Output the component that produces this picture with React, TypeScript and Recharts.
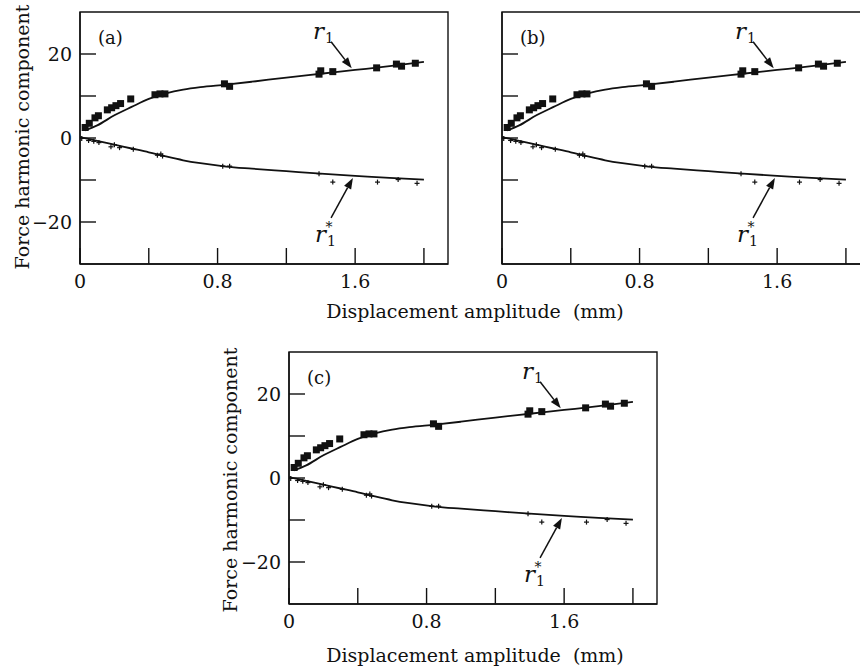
import React from "react";
import {
  ComposedChart,
  Line,
  Scatter,
  XAxis,
  YAxis,
  ReferenceLine,
  ReferenceArea,
  ReferenceDot,
} from "recharts";

const FONT = '"DejaVu Serif", "Liberation Serif", serif';
const INK = "#111";

// axis setup
const X_DOMAIN: [number, number] = [0, 2.14];
const Y_DOMAIN: [number, number] = [-30, 30];
const X_TICKS = [0, 0.4, 0.8, 1.2, 1.6, 2.0];
const X_LABELED = [0, 0.8, 1.6];
const Y_TICKS = [-20, -10, 0, 10, 20];
const Y_LABELED = [-20, 0, 20];

// measured r1 points (squares)
const r1Points = [
  { x: 0.03, y: 2.5 },
  { x: 0.054, y: 3.5 },
  { x: 0.087, y: 4.8 },
  { x: 0.107, y: 5.3 },
  { x: 0.159, y: 6.7 },
  { x: 0.184, y: 7.2 },
  { x: 0.209, y: 7.7 },
  { x: 0.236, y: 8.2 },
  { x: 0.295, y: 9.3 },
  { x: 0.436, y: 10.3 },
  { x: 0.465, y: 10.5 },
  { x: 0.494, y: 10.5 },
  { x: 0.84, y: 12.9 },
  { x: 0.87, y: 12.3 },
  { x: 1.39, y: 15.2 },
  { x: 1.4, y: 16.0 },
  { x: 1.47, y: 15.8 },
  { x: 1.725, y: 16.7 },
  { x: 1.84, y: 17.6 },
  { x: 1.87, y: 17.1 },
  { x: 1.95, y: 17.8 },
];

// measured r1* points (plus)
const r1sPoints = [
  { x: 0.01, y: -0.1 },
  { x: 0.05, y: -0.6 },
  { x: 0.08, y: -0.8 },
  { x: 0.11, y: -1.1 },
  { x: 0.18, y: -2.1 },
  { x: 0.2, y: -1.6 },
  { x: 0.23, y: -2.3 },
  { x: 0.31, y: -2.7 },
  { x: 0.45, y: -4.1 },
  { x: 0.47, y: -3.8 },
  { x: 0.48, y: -4.3 },
  { x: 0.83, y: -6.7 },
  { x: 0.87, y: -6.7 },
  { x: 1.39, y: -8.5 },
  { x: 1.47, y: -10.5 },
  { x: 1.73, y: -10.5 },
  { x: 1.85, y: -9.9 },
  { x: 1.96, y: -10.8 },
];

// fitted curves
const r1Fit = [
  { x: 0.03, y: 1.8 },
  { x: 0.1, y: 3.0 },
  { x: 0.2, y: 5.4 },
  { x: 0.3, y: 7.4 },
  { x: 0.4, y: 9.3 },
  { x: 0.5, y: 10.6 },
  { x: 0.6, y: 11.5 },
  { x: 0.7, y: 12.1 },
  { x: 0.85, y: 12.7 },
  { x: 1.0, y: 13.4 },
  { x: 1.2, y: 14.4 },
  { x: 1.4, y: 15.3 },
  { x: 1.6, y: 16.2 },
  { x: 1.8, y: 17.1 },
  { x: 2.0, y: 18.1 },
];

const r1sFit = [
  { x: 0, y: 0.2 },
  { x: 0.1, y: -0.7 },
  { x: 0.2, y: -1.6 },
  { x: 0.3, y: -2.5 },
  { x: 0.4, y: -3.4 },
  { x: 0.5, y: -4.4 },
  { x: 0.6, y: -5.3 },
  { x: 0.7, y: -6.0 },
  { x: 0.85, y: -6.8 },
  { x: 1.0, y: -7.3 },
  { x: 1.2, y: -7.9 },
  { x: 1.4, y: -8.5 },
  { x: 1.6, y: -9.0 },
  { x: 1.8, y: -9.5 },
  { x: 2.0, y: -9.9 },
];

// annotation arrows: tail -> tip
const r1Arrow = [
  { x: 1.46, y: 22.9 },
  { x: 1.58, y: 16.6 },
];
const r1sArrow = [
  { x: 1.46, y: -19.0 },
  { x: 1.587, y: -9.5 },
];
const letterPos = { x: 0.105, y: 24 };

const Square = (p: any) => (
  <rect x={p.cx - 3.5} y={p.cy - 3.5} width={7} height={7} fill={INK} />
);

const Plus = (p: any) => (
  <g stroke={INK} strokeWidth={1.2}>
    <line x1={p.cx - 2.5} y1={p.cy} x2={p.cx + 2.5} y2={p.cy} />
    <line x1={p.cx} y1={p.cy - 2.5} x2={p.cx} y2={p.cy + 2.5} />
  </g>
);

function arrowHead(p: any) {
  const { x1, y1, x2, y2 } = p;
  const ang = Math.atan2(y2 - y1, x2 - x1);
  const len = 11;
  const half = 4;
  const bx = x2 - len * Math.cos(ang);
  const by = y2 - len * Math.sin(ang);
  const nx = -Math.sin(ang) * half;
  const ny = Math.cos(ang) * half;
  return (
    <>
      <line x1={x1} y1={y1} x2={bx} y2={by} stroke={INK} strokeWidth={1.5} />
      <polygon
        points={`${x2},${y2} ${bx + nx},${by + ny} ${bx - nx},${by - ny}`}
        fill={INK}
      />
    </>
  );
}

const r1Shape = (p: any) => (
  <g>
    {arrowHead(p)}
    <text
      x={p.x1 - 7}
      y={p.y1 - 3}
      textAnchor="end"
      fontFamily={FONT}
      fontStyle="italic"
      fontSize={23}
      fill={INK}
    >
      r
    </text>
    <text x={p.x1 - 6} y={p.y1 + 1} fontFamily={FONT} fontSize={14} fill={INK}>
      1
    </text>
  </g>
);

const r1sShape = (p: any) => (
  <g>
    {arrowHead(p)}
    <text
      x={p.x1 - 5}
      y={p.y1 + 24}
      textAnchor="end"
      fontFamily={FONT}
      fontStyle="italic"
      fontSize={23}
      fill={INK}
    >
      r
    </text>
    <text x={p.x1 - 4} y={p.y1 + 28} fontFamily={FONT} fontSize={14} fill={INK}>
      1
    </text>
    <text
      x={p.x1 - 2}
      y={p.y1 + 14}
      textAnchor="middle"
      fontFamily={FONT}
      fontSize={14}
      fill={INK}
    >
      *
    </text>
  </g>
);

const tickStyle = { fontFamily: FONT, fontSize: 19, fill: INK };

function Panel({
  letter,
  showYLabels,
  left,
  top,
}: {
  letter: string;
  showYLabels: boolean;
  left: number;
  top: number;
}) {
  return (
    <div style={{ position: "absolute", left, top }}>
      <ComposedChart
        width={460}
        height={300}
        margin={{ top: 12, right: 12, bottom: 6, left: 40 }}
      >
        <XAxis
          dataKey="x"
          type="number"
          domain={X_DOMAIN}
          ticks={X_TICKS}
          interval={0}
          allowDataOverflow
          height={30}
          tickSize={-16}
          tickMargin={27}
          tick={tickStyle}
          tickFormatter={(v: number) =>
            X_LABELED.includes(v) ? (v === 0 ? "0" : v.toFixed(1)) : ""
          }
          axisLine={{ stroke: INK, strokeWidth: 1.4 }}
          tickLine={{ stroke: INK, strokeWidth: 1.4 }}
        />
        <YAxis
          type="number"
          domain={Y_DOMAIN}
          ticks={Y_TICKS}
          interval={0}
          allowDataOverflow
          width={40}
          tickSize={-16}
          tickMargin={24}
          tick={tickStyle}
          tickFormatter={(v: number) =>
            showYLabels && Y_LABELED.includes(v)
              ? v < 0
                ? "\u2212" + Math.abs(v)
                : String(v)
              : ""
          }
          axisLine={{ stroke: INK, strokeWidth: 1.4 }}
          tickLine={{ stroke: INK, strokeWidth: 1.4 }}
        />
        <ReferenceArea
          x1={X_DOMAIN[0]}
          x2={X_DOMAIN[1]}
          y1={Y_DOMAIN[0]}
          y2={Y_DOMAIN[1]}
          fill="none"
          stroke={INK}
          strokeWidth={1.4}
          ifOverflow="visible"
        />
        <Line
          data={r1Fit}
          dataKey="y"
          type="monotone"
          stroke={INK}
          strokeWidth={1.8}
          dot={false}
          isAnimationActive={false}
        />
        <Line
          data={r1sFit}
          dataKey="y"
          type="monotone"
          stroke={INK}
          strokeWidth={1.8}
          dot={false}
          isAnimationActive={false}
        />
        <Scatter
          data={r1Points}
          dataKey="y"
          shape={Square}
          isAnimationActive={false}
        />
        <Scatter
          data={r1sPoints}
          dataKey="y"
          shape={Plus}
          isAnimationActive={false}
        />
        <ReferenceLine
          segment={r1Arrow}
          shape={r1Shape}
          ifOverflow="visible"
        />
        <ReferenceLine
          segment={r1sArrow}
          shape={r1sShape}
          ifOverflow="visible"
        />
        <ReferenceDot
          x={letterPos.x}
          y={letterPos.y}
          r={0}
          ifOverflow="visible"
          shape={(p: any) => (
            <text
              x={p.cx}
              y={p.cy}
              dominantBaseline="central"
              fontFamily={FONT}
              fontSize={18}
              fill={INK}
            >
              {letter}
            </text>
          )}
        />
      </ComposedChart>
    </div>
  );
}

const titleStyle: React.CSSProperties = {
  position: "absolute",
  fontFamily: FONT,
  fontSize: 19,
  color: INK,
  whiteSpace: "pre",
  textAlign: "center",
  width: 400,
  lineHeight: "20px",
};

function XTitle({ cx, cy }: { cx: number; cy: number }) {
  return (
    <div style={{ ...titleStyle, left: cx - 200, top: cy - 10 }}>
      {"Displacement amplitude  (mm)"}
    </div>
  );
}

function YTitle({ cx, cy }: { cx: number; cy: number }) {
  return (
    <div
      style={{
        ...titleStyle,
        left: cx - 200,
        top: cy - 10,
        transform: "rotate(-90deg)",
      }}
    >
      Force harmonic component
    </div>
  );
}

export default function App() {
  return (
    <div
      style={{
        position: "absolute",
        left: 0,
        top: 0,
        width: 860,
        height: 669,
        overflow: "hidden",
        background: "#fff",
      }}
    >
      <Panel letter="(a)" showYLabels left={0} top={0} />
      <Panel letter="(b)" showYLabels={false} left={422} top={0} />
      <Panel letter="(c)" showYLabels left={209} top={340} />
      <YTitle cx={22} cy={137} />
      <YTitle cx={230} cy={480} />
      <XTitle cx={475} cy={311} />
      <XTitle cx={475} cy={655} />
    </div>
  );
}
